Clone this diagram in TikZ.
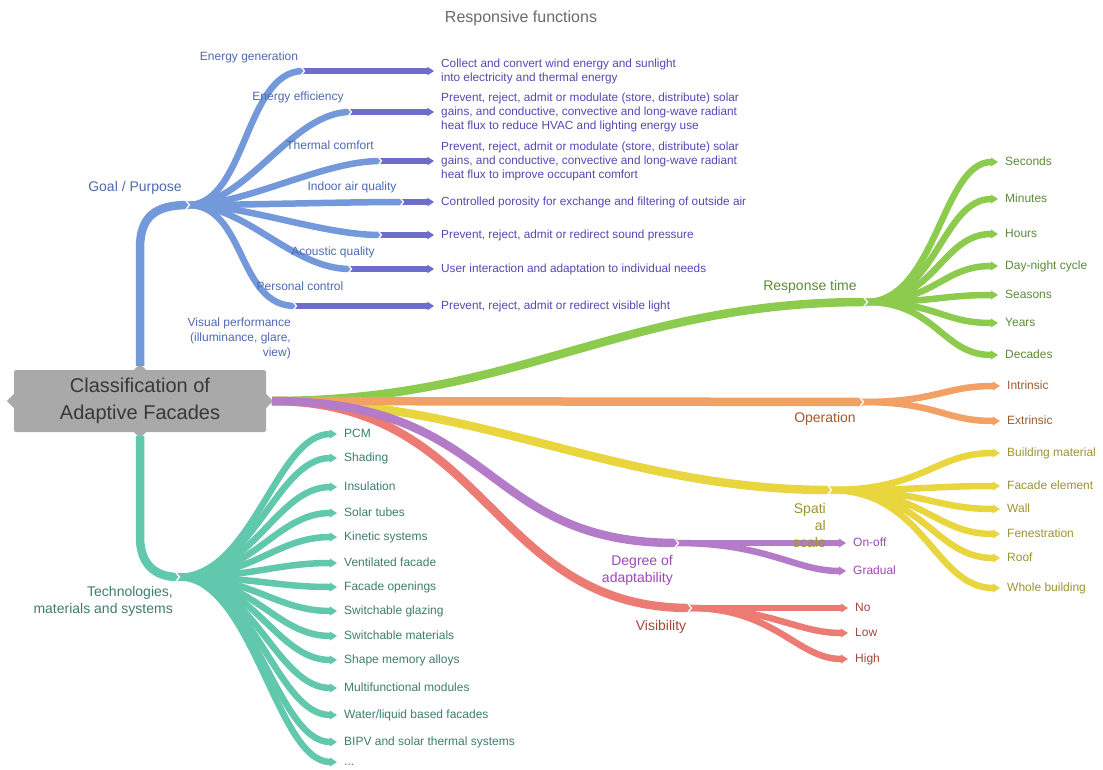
\documentclass[tikz,border=0pt]{standalone}
\usepackage{fontspec}
\setmainfont{Liberation Sans}
\usetikzlibrary{arrows.meta,calc}
\definecolor{cblue}{HTML}{7399DB}
\definecolor{cbluet}{HTML}{4E6BB0}
\definecolor{cdesc}{HTML}{6E6DC9}
\definecolor{cdesct}{HTML}{5449B2}
\definecolor{cgreen}{HTML}{8CCB4E}
\definecolor{cgreent}{HTML}{5B8B3A}
\definecolor{corange}{HTML}{F2A064}
\definecolor{coranget}{HTML}{A05A2C}
\definecolor{cyellow}{HTML}{E9D53D}
\definecolor{cyellowt}{HTML}{9E9430}
\definecolor{cpurple}{HTML}{B47CC8}
\definecolor{cpurplet}{HTML}{9B4AB3}
\definecolor{cred}{HTML}{EC7C73}
\definecolor{credt}{HTML}{A8443E}
\definecolor{cteal}{HTML}{62C8AD}
\definecolor{ctealt}{HTML}{3E7D6D}
\definecolor{cbox}{HTML}{A9A9A9}
\definecolor{cboxt}{HTML}{383838}
\definecolor{ctitle}{HTML}{6B6B6B}
\newcommand\notchat[1]{\draw[notchline] ($(#1)+(-3,-5.5)$) -- ($(#1)+(1.5,0)$) -- ($(#1)+(-3,5.5)$);}
\begin{document}
\begin{tikzpicture}[x=1pt,y=-1pt,
  mainbr/.style={line width=8.5pt},
  leafbr/.style={line width=6.5pt, shorten >=4pt, -{Triangle[length=0pt 1.1,width=0pt 1.35]}},
  lab/.style={anchor=west, inner sep=3pt, font=\fontsize{12}{14}\selectfont, text height=8.6pt, text depth=2.4pt},
  brlab/.style={font=\fontsize{14}{17}\selectfont, inner sep=0pt, align=right},
  sublab/.style={font=\fontsize{12}{15}\selectfont, inner sep=0pt, text=cbluet},
  desclab/.style={anchor=west, inner sep=3pt, align=left, text=cdesct, font=\fontsize{11.8}{14}\selectfont},
  notchline/.style={draw=white, line width=1.3pt},
  rootbox/.style={fill=cbox, text=cboxt, minimum width=252pt, minimum height=62pt, align=center, inner sep=0pt, rounded corners=1.5pt, font=\fontsize{20}{27}\selectfont},
]
\useasboundingbox (0,0) rectangle (1103,769);
\fill[white] (0,0) rectangle (1103,769);

% title
\node[font=\fontsize{16}{19}\selectfont, text=ctitle, inner sep=0pt] (title) at (521,18) {Responsive functions};

% root
\node[rootbox] (root) at (140,401) {Classification of\\Adaptive Facades};
\fill[cbox] ($(root.west)+(0,-7)$) -- ++(-7,7) -- ++(7,7) -- cycle;
\fill[cbox] ($(root.east)+(0,-7)$) -- ++(7,7) -- ++(-7,7) -- cycle;
\fill[cbox] ($(root.north)+(-6,0)$) -- ++(6,-6) -- ++(6,6) -- cycle;
\fill[cbox] ($(root.south)+(-6,0)$) -- ++(6,6) -- ++(6,-6) -- cycle;

% junction coordinates
\coordinate (gp) at (188,205);
\coordinate (tj) at (178,577);
\coordinate (rt) at (866,302);
\coordinate (op) at (862,402);
\coordinate (sp) at (830,490);
\coordinate (dg) at (677,543);
\coordinate (vs) at (690,608);
\coordinate (rs) at (272,401);

% ===== Goal / Purpose (blue) =====
\draw[mainbr, cblue] ($(root.north)+(0,-4)$) -- (140,248) .. controls +(0,-32) and +(-32,0) .. (gp);
\node[brlab, text=cbluet] (goal) at (135,188) {Goal / Purpose};

\node[desclab] (d1) at (438,71) {Collect and convert wind energy and sunlight\\into electricity and thermal energy};
\node[desclab] (d2) at (438,112) {Prevent, reject, admit or modulate (store, distribute) solar\\gains, and conductive, convective and long-wave radiant\\heat flux to reduce HVAC and lighting energy use};
\node[desclab] (d3) at (438,161) {Prevent, reject, admit or modulate (store, distribute) solar\\gains, and conductive, convective and long-wave radiant\\heat flux to improve occupant comfort};
\node[desclab] (d4) at (438,202) {Controlled porosity for exchange and filtering of outside air};
\node[desclab] (d5) at (438,235) {Prevent, reject, admit or redirect sound pressure};
\node[desclab] (d6) at (438,269) {User interaction and adaptation to individual needs};
\node[desclab] (d7) at (438,306) {Prevent, reject, admit or redirect visible light};

\coordinate (b1) at (303,71);
\coordinate (b2) at (350,112);
\coordinate (b3) at (380,161);
\coordinate (b4) at (402,202);
\coordinate (b5) at (380,235);
\coordinate (b6) at (350,269);
\coordinate (b7) at (295,306);

\foreach \i in {1,...,7}{
  \draw[leafbr, cdesc, line width=6pt] (b\i) -- (d\i.west);
}
\foreach \i in {1,...,7}{
  \draw[cblue, line width=6.5pt] (gp) .. controls +(58,0) and +(-58,0) .. (b\i);
}
\foreach \i in {1,...,7}{ \notchat{b\i} }
\notchat{gp}

\node[sublab] (s1) at (249,57) {Energy generation};
\node[sublab] (s2) at (298,97) {Energy efficiency};
\node[sublab] (s3) at (330,145) {Thermal comfort};
\node[sublab] (s4) at (352,187) {Indoor air quality};
\node[sublab] (s5) at (333,252) {Acoustic quality};
\node[sublab] (s6) at (300,286) {Personal control};
\node[sublab, align=right, anchor=east] (s7) at (291,338) {Visual performance\\(illuminance, glare,\\view)};

% ===== main branches to the right =====
\draw[mainbr, cgreen] (rs) .. controls (520,401) and (620,302) .. (rt);
\draw[mainbr, cyellow] (rs) .. controls (480,401) and (620,490) .. (sp);
\draw[mainbr, corange] (rs) -- (op);
\draw[mainbr, cred] (rs) .. controls (490,401) and (490,608) .. (vs);
\draw[mainbr, cpurple] (rs) .. controls (500,401) and (480,543) .. (dg);

% ----- Response time (green)
\node[brlab, text=cgreent] (rtl) at (810,287) {Response time};
\node[lab, text=cgreent] (g1) at (1002,162) {Seconds};
\node[lab, text=cgreent] (g2) at (1002,199) {Minutes};
\node[lab, text=cgreent] (g3) at (1002,234) {Hours};
\node[lab, text=cgreent] (g4) at (1002,266) {Day-night cycle};
\node[lab, text=cgreent] (g5) at (1002,295) {Seasons};
\node[lab, text=cgreent] (g6) at (1002,323) {Years};
\node[lab, text=cgreent] (g7) at (1002,355) {Decades};
\foreach \i in {1,...,7}{
  \draw[leafbr, cgreen] (rt) .. controls +(70,0) and +(-60,0) .. (g\i.west);
}
\notchat{rt}

% ----- Operation (orange)
\node[brlab, text=coranget] (opl) at (825,419) {Operation};
\node[lab, text=coranget] (o1) at (1004,386) {Intrinsic};
\node[lab, text=coranget] (o2) at (1004,421) {Extrinsic};
\foreach \i in {1,2}{
  \draw[leafbr, corange] (op) .. controls +(75,0) and +(-60,0) .. (o\i.west);
}
\notchat{op}

% ----- Spatial scale (yellow)
\node[lab, text=cyellowt] (y1) at (1004,453) {Building material};
\node[lab, text=cyellowt] (y2) at (1004,486) {Facade element};
\node[lab, text=cyellowt] (y3) at (1004,509) {Wall};
\node[lab, text=cyellowt] (y4) at (1004,534) {Fenestration};
\node[lab, text=cyellowt] (y5) at (1004,558) {Roof};
\node[lab, text=cyellowt] (y6) at (1004,588) {Whole building};
\foreach \i in {1,...,6}{
  \draw[leafbr, cyellow] (sp) .. controls +(95,0) and +(-70,0) .. (y\i.west);
}
\notchat{sp}

% ----- Degree of adaptability (purple)
\node[brlab, text=cpurplet, anchor=east] (dgl) at (673,570) {Degree of\\adaptability};
\node[lab, text=cpurplet] (p1) at (850,543) {On-off};
\node[lab, text=cpurplet] (p2) at (850,571) {Gradual};
\draw[leafbr, cpurple] (dg) -- (p1.west);
\draw[leafbr, cpurple] (dg) .. controls +(90,0) and +(-55,0) .. (p2.west);
\notchat{dg}
\node[brlab, text=cyellowt, anchor=east] (spl) at (826,525) {Spati\\al\\scale};

% ----- Visibility (red)
\node[brlab, text=credt] (vsl) at (661,627) {Visibility};
\node[lab, text=credt] (r1) at (852,608) {No};
\node[lab, text=credt] (r2) at (852,633) {Low};
\node[lab, text=credt] (r3) at (852,659) {High};
\draw[leafbr, cred] (vs) -- (r1.west);
\draw[leafbr, cred] (vs) .. controls +(80,0) and +(-55,0) .. (r2.west);
\draw[leafbr, cred] (vs) .. controls +(85,0) and +(-55,0) .. (r3.west);
\notchat{vs}

% ===== Technologies (teal)
\draw[mainbr, cteal] ($(root.south)+(0,4)$) -- (140,537) .. controls +(0,25) and +(-25,0) .. (tj);
\node[brlab, text=ctealt, anchor=east] (tjl) at (173,601) {Technologies,\\materials and systems};
\node[lab, text=ctealt] (t1) at (341,434) {PCM};
\node[lab, text=ctealt] (t2) at (341,458) {Shading};
\node[lab, text=ctealt] (t3) at (341,487) {Insulation};
\node[lab, text=ctealt] (t4) at (341,513) {Solar tubes};
\node[lab, text=ctealt] (t5) at (341,537) {Kinetic systems};
\node[lab, text=ctealt] (t6) at (341,563) {Ventilated facade};
\node[lab, text=ctealt] (t7) at (341,587) {Facade openings};
\node[lab, text=ctealt] (t8) at (341,611) {Switchable glazing};
\node[lab, text=ctealt] (t9) at (341,636) {Switchable materials};
\node[lab, text=ctealt] (t10) at (341,660) {Shape memory alloys};
\node[lab, text=ctealt] (t11) at (341,688) {Multifunctional modules};
\node[lab, text=ctealt] (t12) at (341,715) {Water/liquid based facades};
\node[lab, text=ctealt] (t13) at (341,742) {BIPV and solar thermal systems};
\node[lab, text=ctealt] (t14) at (341,762) {...};
\foreach \i in {1,...,14}{
  \draw[leafbr, cteal] (tj) .. controls +(75,0) and +(-65,0) .. (t\i.west);
}
\notchat{tj}
\end{tikzpicture}
\end{document}
